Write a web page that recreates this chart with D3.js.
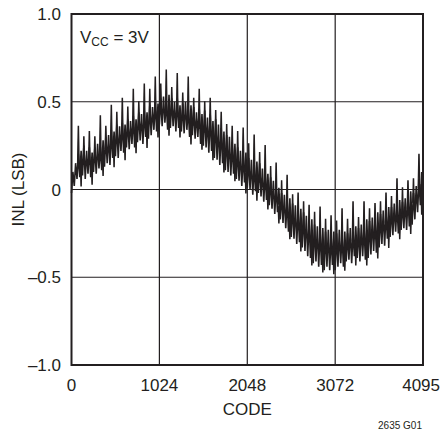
<!DOCTYPE html>
<html>
<head>
<meta charset="utf-8">
<script src="https://cdn.jsdelivr.net/npm/d3@7"></script>
<style>
  html, body { margin: 0; padding: 0; background: #fff; }
  svg text { font-family: "Liberation Sans", Arial, sans-serif; fill: #231f20; }
</style>
</head>
<body>
<svg id="chart" width="441" height="436"></svg>
<script>
// ---- data ----
const xTicks = [0, 1024, 2048, 3072, 4095];
const xTickLabels = ["0", "1024", "2048", "3072", "4095"];
const yTicks = [1.0, 0.5, 0, -0.5, -1.0];
const yTickLabels = ["1.0", "0.5", "0", "\u20130.5", "\u20131.0"];

// band of the INL trace, sampled every 32 codes (lower and upper edge)
const bandLo = [
  -0.02, 0.02, 0.06, 0.07, 0.08, 0.06, 0.09, 0.07, 0.10, 0.09, 0.12, 0.11, 0.13,
  0.15, 0.14, 0.18, 0.19, 0.18, 0.22, 0.21, 0.24, 0.23, 0.26, 0.24, 0.27,
  0.28, 0.26, 0.30, 0.29, 0.31, 0.34, 0.33, 0.37, 0.36, 0.38, 0.34, 0.35,
  0.36, 0.33, 0.35, 0.33, 0.32, 0.34, 0.30, 0.31, 0.29, 0.30, 0.26, 0.25,
  0.24, 0.21, 0.22, 0.18, 0.17, 0.14, 0.15, 0.11, 0.10, 0.08, 0.09, 0.06,
  0.05, 0.02, 0.04, 0.01, 0.00, -0.03, -0.01, -0.02, -0.04, -0.07, -0.06, -0.09,
  -0.11, -0.14, -0.13, -0.17, -0.19, -0.22, -0.24, -0.27, -0.28, -0.31, -0.30, -0.33,
  -0.35, -0.38, -0.39, -0.42, -0.41, -0.44, -0.43, -0.46, -0.44, -0.46, -0.43, -0.46,
  -0.44, -0.42, -0.44, -0.41, -0.40, -0.42, -0.38, -0.39, -0.41, -0.38, -0.40, -0.39,
  -0.37, -0.35, -0.36, -0.33, -0.31, -0.32, -0.28, -0.27, -0.26, -0.24, -0.25, -0.23,
  -0.22, -0.23, -0.21, -0.20, -0.17, -0.13, -0.09, -0.02
];
const bandHi = [
  0.10, 0.15, 0.20, 0.22, 0.25, 0.22, 0.24, 0.21, 0.24, 0.26, 0.24, 0.28, 0.30,
  0.31, 0.34, 0.33, 0.37, 0.36, 0.38, 0.37, 0.40, 0.39, 0.42, 0.40, 0.44,
  0.43, 0.45, 0.44, 0.48, 0.47, 0.50, 0.49, 0.52, 0.53, 0.50, 0.54, 0.52,
  0.50, 0.52, 0.48, 0.49, 0.50, 0.46, 0.48, 0.47, 0.44, 0.46, 0.43, 0.45,
  0.41, 0.43, 0.39, 0.40, 0.37, 0.35, 0.33, 0.31, 0.30, 0.27, 0.26, 0.24,
  0.22, 0.20, 0.21, 0.18, 0.17, 0.14, 0.16, 0.15, 0.12, 0.10, 0.09, 0.07,
  0.05, 0.02, 0.01, -0.02, -0.03, -0.06, -0.05, -0.08, -0.09, -0.12, -0.11, -0.13,
  -0.15, -0.18, -0.17, -0.20, -0.21, -0.23, -0.22, -0.24, -0.23, -0.26, -0.24, -0.25,
  -0.23, -0.26, -0.24, -0.25, -0.22, -0.24, -0.21, -0.22, -0.20, -0.21, -0.17, -0.18,
  -0.16, -0.17, -0.13, -0.14, -0.12, -0.13, -0.10, -0.10, -0.08, -0.09, -0.06, -0.07,
  -0.05, -0.04, -0.01, -0.02, 0.02, 0.06, 0.10, 0.08
];
// tall periodic spikes: code and peak value
const spikeCodes = [80, 208, 336, 464, 592, 720, 848, 976, 1104, 1232, 1360, 1488, 1616, 1744, 1872, 2000,
  2128, 2256, 2384, 2512, 2640, 2768, 2896, 3024, 3152, 3280, 3408, 3536, 3664, 3792, 3920, 4048];
const spikeTops = [0.36, 0.33, 0.42, 0.48, 0.52, 0.57, 0.60, 0.64, 0.68, 0.66, 0.64, 0.57, 0.52, 0.44, 0.36, 0.35,
  0.31, 0.25, 0.15, 0.08, -0.02, -0.09, -0.10, -0.15, -0.11, -0.07, -0.07, -0.08, -0.02, 0.06, 0.05, 0.20];
// smaller intermediate peaks
const midCodes = [144, 272, 400, 528, 656, 784, 912, 1040, 1168, 1296, 1424, 1552, 1680, 1808, 1936, 2064,
  2192, 2320, 2448, 2576, 2704, 2832, 2960, 3088, 3216, 3344, 3472, 3600, 3728, 3856, 3984];
const midTops = [0.30, 0.30, 0.36, 0.44, 0.47, 0.50, 0.57, 0.60, 0.58, 0.55, 0.52, 0.50, 0.45, 0.37, 0.33, 0.26,
  0.21, 0.13, 0.05, -0.03, -0.07, -0.13, -0.17, -0.18, -0.17, -0.16, -0.11, -0.07, -0.04, 0.01, 0.06];
// downward dips of the lower edge
const dipCodes = [112, 240, 368, 496, 624, 752, 880, 1008, 1136, 1264, 1392, 1520, 1648, 1776, 1904, 2032,
  2160, 2288, 2416, 2544, 2672, 2800, 2928, 3056, 3184, 3312, 3440, 3568, 3696, 3824, 3952, 4080];
const dipBottoms = [0.02, 0.03, 0.08, 0.13, 0.17, 0.21, 0.24, 0.30, 0.31, 0.30, 0.26, 0.23, 0.17, 0.10, 0.05, -0.02,
  -0.06, -0.11, -0.19, -0.28, -0.35, -0.43, -0.47, -0.48, -0.46, -0.43, -0.43, -0.39, -0.33, -0.28, -0.25, -0.14];

// ---- layout ----
const svg = d3.select("#chart");
const pLeft = 71.5, pTop = 14, pRight = 423, pBottom = 365;
const x = d3.scaleLinear().domain([0, 4095]).range([pLeft, pRight]);
const y = d3.scaleLinear().domain([-1, 1]).range([pBottom, pTop]);
const ink = "#231f20";

// grid
svg.append("g").selectAll("line").data(xTicks.slice(1, -1)).join("line")
  .attr("x1", d => x(d)).attr("x2", d => x(d)).attr("y1", pTop).attr("y2", pBottom)
  .attr("stroke", ink).attr("stroke-width", 1.2);
svg.append("g").selectAll("line").data(yTicks.slice(1, -1)).join("line")
  .attr("y1", d => y(d)).attr("y2", d => y(d)).attr("x1", pLeft).attr("x2", pRight)
  .attr("stroke", ink).attr("stroke-width", 1.2);

// trace band (zigzag between lower and upper edge)
const pts = [];
bandLo.forEach((lo, i) => {
  const c = Math.min(i * 32, 4095);
  pts.push([c, lo]);
  pts.push([Math.min(c + 16, 4095), bandHi[i]]);
});
const line = d3.line().x(d => x(d[0])).y(d => y(d[1]));
svg.append("path").datum(pts).attr("d", line)
  .attr("fill", "none").attr("stroke", ink).attr("stroke-width", 1.6)
  .attr("stroke-linejoin", "miter");

// spikes (peaks and dips) as thin wedges from the band centre
function wedge(c, v, w) {
  const idx = Math.min(Math.round(c / 32), bandLo.length - 1);
  const base = (bandLo[idx] + bandHi[idx]) / 2;
  return [[c - w, base], [c - 2, v], [c + 2, v], [c + w, base]];
}
const marks = [];
spikeCodes.forEach((c, i) => marks.push(wedge(c, spikeTops[i], 10)));
midCodes.forEach((c, i) => marks.push(wedge(c, midTops[i], 9)));
dipCodes.forEach((c, i) => marks.push(wedge(c, dipBottoms[i], 9)));
svg.append("g").selectAll("path").data(marks).join("path")
  .attr("d", line).attr("fill", ink).attr("stroke", ink).attr("stroke-width", 1.2);

// frame
svg.append("rect").attr("x", pLeft).attr("y", pTop).attr("width", pRight - pLeft).attr("height", pBottom - pTop)
  .attr("fill", "none").attr("stroke", ink).attr("stroke-width", 2);

// axes labels
svg.append("g").selectAll("text").data(yTicks).join("text")
  .attr("x", 61).attr("y", d => y(d) + 6).attr("text-anchor", "end")
  .attr("font-size", 17).text((d, i) => yTickLabels[i]);
svg.append("g").selectAll("text").data(xTicks).join("text")
  .attr("x", (d, i) => i === xTicks.length - 1 ? 440 : x(d)).attr("y", 391)
  .attr("text-anchor", (d, i) => i === xTicks.length - 1 ? "end" : "middle")
  .attr("font-size", 17).text((d, i) => xTickLabels[i]);

svg.append("text").attr("x", (pLeft + pRight) / 2).attr("y", 415).attr("text-anchor", "middle")
  .attr("font-size", 17).text("CODE");
svg.append("text").attr("transform", `translate(24,${(pTop + pBottom) / 2}) rotate(-90)`)
  .attr("text-anchor", "middle").attr("font-size", 17).text("INL (LSB)");

const vcc = svg.append("text").attr("x", 80).attr("y", 43).attr("font-size", 17);
vcc.append("tspan").text("V");
vcc.append("tspan").attr("font-size", 12).attr("dy", 3).text("CC");
vcc.append("tspan").attr("dy", -3).text(" = 3V");

svg.append("text").attr("x", 422).attr("y", 429).attr("text-anchor", "end")
  .attr("font-size", 10).text("2635 G01");
</script>
</body>
</html>
